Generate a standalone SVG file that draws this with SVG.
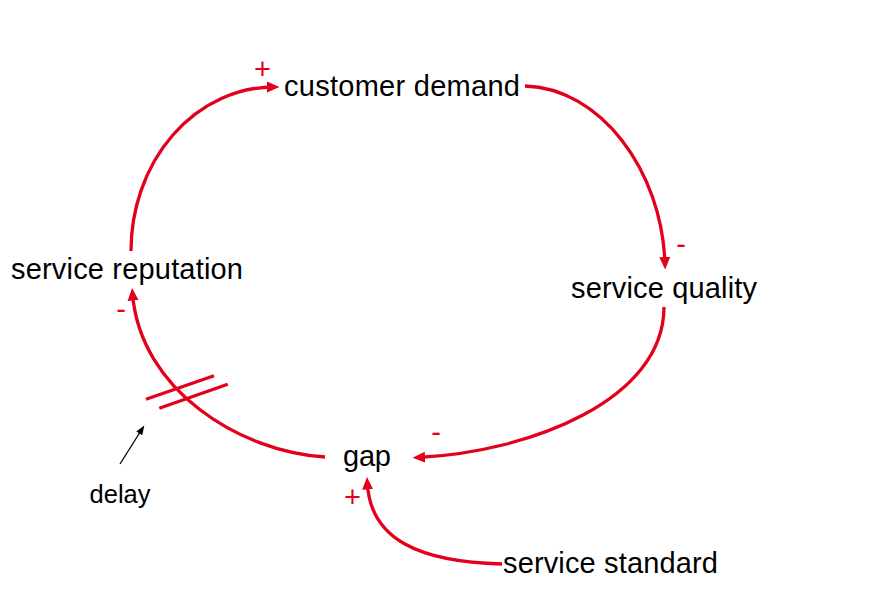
<svg xmlns="http://www.w3.org/2000/svg" width="880" height="609" viewBox="0 0 880 609">
<defs>
<style>
.t{font-family:"Liberation Sans",Arial,sans-serif;font-size:29px;fill:#000}
.s{font-family:"Liberation Sans",Arial,sans-serif;font-size:29px;fill:#e2001a;text-anchor:middle}
.c{fill:none;stroke:#e2001a;stroke-width:3.3}
</style>
<marker id="ar" markerUnits="userSpaceOnUse" markerWidth="13" markerHeight="12" viewBox="0 0 13 12" refX="7" refY="6" orient="auto"><path d="M0,0.5 L12.5,6 L0,11.5 z" fill="#e2001a"/></marker>
<marker id="ab" markerUnits="userSpaceOnUse" markerWidth="10" markerHeight="8" viewBox="0 0 10 8" refX="7" refY="4" orient="auto"><path d="M0,0.5 L9.5,4 L0,7.5 z" fill="#000"/></marker>
</defs>
<g id="connectors">
<path class="c" d="M131,251 A143,164 0 0 1 274,87" marker-end="url(#ar)"/>
<path class="c" d="M525,86 C600,88 662,170 665,264" marker-end="url(#ar)"/>
<path class="c" d="M664,307 C664,400 530,452 418,457.5" marker-end="url(#ar)"/>
<path class="c" d="M325,457 C240,452 140,390 132.5,293.5" marker-end="url(#ar)"/>
<path class="c" d="M502,564 C420,562 370,540 367.3,482.5" marker-end="url(#ar)"/>
<g id="delay-mark">
<line class="c" x1="146" y1="399.3" x2="214" y2="375.7"/>
<line class="c" x1="159.3" y1="408.3" x2="227.7" y2="384.3"/>
</g>
<line x1="120" y1="464" x2="143" y2="427.5" stroke="#000" stroke-width="1.3" marker-end="url(#ab)"/>
</g>
<g id="signs">
<text class="s" x="262.5" y="79">+</text>
<text class="s" x="681" y="254">-</text>
<text class="s" x="121" y="319">-</text>
<text class="s" x="436" y="442">-</text>
<text class="s" x="352.5" y="507">+</text>
</g>
<g id="customer-demand"><text class="t" x="284" y="96" textLength="236">customer demand</text></g>
<g id="service-quality"><text class="t" x="571" y="298" textLength="186">service quality</text></g>
<g id="gap"><text class="t" x="343" y="466" textLength="48">gap</text></g>
<g id="service-reputation"><text class="t" x="11" y="279" textLength="232">service reputation</text></g>
<g id="service-standard"><text class="t" x="503" y="573" textLength="215">service standard</text></g>
<g id="delay"><text class="t" x="89.5" y="503" textLength="61" style="font-size:25.5px">delay</text></g>
</svg>
